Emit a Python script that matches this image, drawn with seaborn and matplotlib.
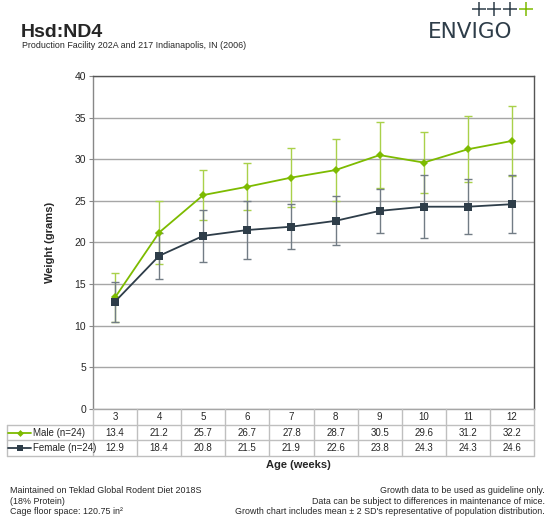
import pandas as pd
import matplotlib.pyplot as plt
import seaborn as sns

weeks = [3, 4, 5, 6, 7, 8, 9, 10, 11, 12]
male = [13.4, 21.2, 25.7, 26.7, 27.8, 28.7, 30.5, 29.6, 31.2, 32.2]
female = [12.9, 18.4, 20.8, 21.5, 21.9, 22.6, 23.8, 24.3, 24.3, 24.6]
male_err = [2.9, 3.8, 3.0, 2.8, 3.5, 3.7, 3.95, 3.7, 3.95, 4.2]
female_err = [2.4, 2.8, 3.1, 3.45, 2.7, 2.95, 2.65, 3.75, 3.3, 3.5]
series_names = ["Male (n=24)", "Female (n=24)"]

green = "#7DBB00"
green_err = "#A9D14A"
slate = "#2E3D49"
slate_err = "#727C85"

df = pd.DataFrame({
    "pos": list(range(len(weeks))) * 2,
    "weight": male + female,
    "sex": [series_names[0]] * len(weeks) + [series_names[1]] * len(weeks),
})

sns.set_style("white")
plt.rcParams["font.family"] = ["Liberation Sans", "DejaVu Sans"]

fig = plt.figure(figsize=(5.54, 5.28), dpi=100)
W, H = 554, 528
x0, x1, ytop, ybot = 93, 534, 76, 409
ax = fig.add_axes([x0 / W, 1 - ybot / H, (x1 - x0) / W, (ybot - ytop) / H])

pos = list(range(len(weeks)))
ax.errorbar(pos, male, yerr=male_err, fmt="none", ecolor=green_err, elinewidth=1, capsize=3, capthick=1, zorder=2)
ax.errorbar(pos, female, yerr=female_err, fmt="none", ecolor=slate_err, elinewidth=1, capsize=3, capthick=1, zorder=2)
sns.lineplot(data=df[df.sex == series_names[0]], x="pos", y="weight", color=green, marker="D",
             markersize=4.5, linewidth=1.3, markeredgewidth=0, ax=ax, zorder=3)
sns.lineplot(data=df[df.sex == series_names[1]], x="pos", y="weight", color=slate, marker="s",
             markersize=5.5, linewidth=1.3, markeredgewidth=0, ax=ax, zorder=3)

ax.set_xlim(-0.5, len(weeks) - 0.5)
ax.set_ylim(0, 40)
ax.set_yticks(range(0, 41, 5))
ax.set_xticks([])
ax.set_xlabel("")
ax.set_ylabel("Weight (grams)", fontsize=8, fontweight="bold", labelpad=14)
ax.tick_params(axis="y", labelsize=7.5, length=3, color="#888888", left=True, pad=2)
ax.yaxis.grid(True, color="#A6A6A6", linewidth=1)
for s in ["top", "right"]:
    ax.spines[s].set_color("#555555")
ax.spines["left"].set_color("#888888")
ax.spines["bottom"].set_color("#A6A6A6")
for s in ax.spines.values():
    s.set_linewidth(1)

# data table under the plot
tb_top, tb_bot = 409, 456
tax = fig.add_axes([x0 / W, 1 - tb_bot / H, (x1 - x0) / W, (tb_bot - tb_top) / H])
tax.set_xlim(-0.5, len(weeks) - 0.5)
tax.set_ylim(3, 0)
tax.axis("off")
unit = (x1 - x0) / len(weeks)
left = -0.5 - (x0 - 7) / unit
lc = "#BFBFBF"
fs = 7
for r in [1, 2, 3]:
    tax.plot([left, len(weeks) - 0.5], [r, r], color=lc, lw=1, clip_on=False)
for i in range(len(weeks) + 1):
    tax.plot([i - 0.5, i - 0.5], [0, 3], color=lc, lw=1, clip_on=False)
tax.plot([left, left], [1, 3], color=lc, lw=1, clip_on=False)
for i, w in enumerate(weeks):
    tax.text(i, 0.5, str(w), ha="center", va="center", fontsize=fs)
    tax.text(i, 1.5, f"{male[i]:.1f}", ha="center", va="center", fontsize=fs)
    tax.text(i, 2.5, f"{female[i]:.1f}", ha="center", va="center", fontsize=fs)
for r, (name, c, m, ms) in enumerate(zip(series_names, [green, slate], ["D", "s"], [3.5, 4.5])):
    yy = 1.5 + r
    tax.plot([left + 1 / unit, left + 24 / unit], [yy, yy], color=c, lw=1.3, clip_on=False)
    tax.plot([left + 12.5 / unit], [yy], marker=m, color=c, markersize=ms, markeredgewidth=0, clip_on=False)
    tax.text(left + 26 / unit, yy, name, ha="left", va="center", fontsize=fs)

fig.text(298 / W, 1 - 465 / H, "Age (weeks)", ha="center", va="center", fontsize=8, fontweight="bold")

# header
fig.text(21 / W, 1 - 37 / H, "Hsd:ND4", fontsize=14, fontweight="bold", ha="left", va="baseline")
fig.text(22 / W, 1 - 48.5 / H, "Production Facility 202A and 217 Indianapolis, IN (2006)", fontsize=6.4, ha="left", va="baseline")
fig.text(428 / W, 1 - 37.5 / H, "ENVIGO", fontsize=15.5, color="#2E3D49", ha="left", va="baseline",
         family=["DejaVu Sans"])
for k, cx in enumerate([479, 494, 510, 526]):
    fig.add_artist(plt.Line2D([cx / W], [1 - 8.5 / H], marker="+", markersize=9.5, markeredgewidth=1.1,
                              color=green if k == 3 else "#2E3D49", transform=fig.transFigure))

# footer
fig.text(10 / W, 1 - 501 / H, "Maintained on Teklad Global Rodent Diet 2018S\n(18% Protein)\nCage floor space: 120.75 in\u00b2",
         fontsize=6.4, ha="left", va="center", linespacing=1.25)
fig.text(545 / W, 1 - 501 / H, "Growth data to be used as guideline only.\nData can be subject to differences in maintenance of mice.\n"
         "Growth chart includes mean \u00b1 2 SD's representative of population distribution.",
         fontsize=6.4, ha="right", va="center", linespacing=1.25)

fig.savefig("out.png", dpi=100)
